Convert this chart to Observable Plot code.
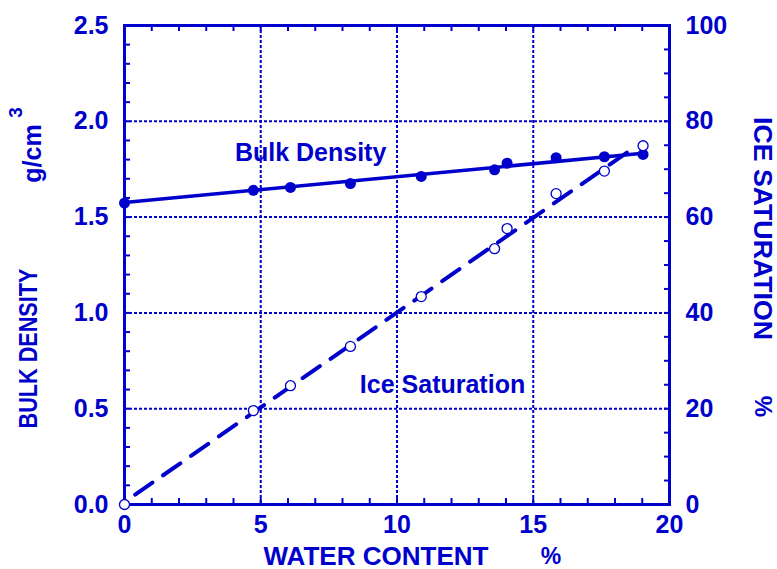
<!DOCTYPE html>
<html>
<head>
<meta charset="utf-8">
<script src="https://cdn.jsdelivr.net/npm/d3@7"></script>
<script src="https://cdn.jsdelivr.net/npm/@observablehq/plot@0.6"></script>
<style>
  body { margin: 0; background: #fff; }
</style>
</head>
<body>
<div id="chart"></div>
<script>
// Measured samples: water content (%), bulk density (g/cm3), ice saturation (%)
const waterContent = [0, 4.73, 6.09, 8.29, 10.89, 13.58, 14.04, 15.84, 17.61, 19.03];
const bulkDensity = [1.573, 1.64, 1.655, 1.675, 1.712, 1.747, 1.781, 1.81, 1.815, 1.827];
const iceSaturation = [0, 19.6, 24.8, 33.0, 43.4, 53.4, 57.6, 64.9, 69.6, 74.9];

// Fitted trend lines (end points)
const densityFitX = [0, 19.03];
const densityFitY = [1.576, 1.833];
const saturationFitX = [0, 18.8];
const saturationFitY = [0.5, 74.9];

// Tick values
const xLabelTicks = [0, 5, 10, 15, 20];
const densityTicks = [0, 0.5, 1.0, 1.5, 2.0, 2.5];
const saturationTicks = [0, 20, 40, 60, 80, 100];

// Series annotations
const seriesLabels = ["Bulk Density", "Ice Saturation"];
const seriesLabelX = [6.83, 11.67];
const seriesLabelY = [1.832, 0.626];

const BLUE = "#0000cc";
const SAT_PER_DENSITY = 40; // 100 % on the right axis lines up with 2.5 g/cm3 on the left

const points = waterContent.map((w, i) => ({w, rho: bulkDensity[i], sat: iceSaturation[i]}));
const densityFit = densityFitX.map((w, i) => ({w, rho: densityFitY[i]}));
const saturationFit = saturationFitX.map((w, i) => ({w, sat: saturationFitY[i]}));
const labels = seriesLabels.map((text, i) => ({text, x: seriesLabelX[i], y: seriesLabelY[i]}));

const blank = () => "";
const font = "'Liberation Sans', Arial, sans-serif";
const title = {fill: BLUE, textAnchor: "middle", lineAnchor: "middle"};

const chart = Plot.plot({
  width: 777,
  height: 569,
  marginLeft: 124,
  marginRight: 108,
  marginTop: 25,
  marginBottom: 65,
  x: {domain: [0, 20]},
  y: {domain: [0, 2.5]},
  style: {color: BLUE, fontFamily: font, fontWeight: "bold", background: "#fff", overflow: "visible"},
  marks: [
    // dotted grid
    Plot.gridX([5, 10, 15], {stroke: BLUE, strokeOpacity: 1, strokeWidth: 2, strokeDasharray: "3,2"}),
    Plot.gridY([0.5, 1.0, 1.5, 2.0], {stroke: BLUE, strokeOpacity: 1, strokeWidth: 2, strokeDasharray: "3,2"}),

    // inward minor ticks on all four edges
    Plot.axisX({anchor: "bottom", ticks: d3.range(0, 21, 1), tickSize: -6, tickFormat: blank, strokeWidth: 2, label: null}),
    Plot.axisX({anchor: "top", ticks: d3.range(0, 21, 1), tickSize: -5, tickFormat: blank, strokeWidth: 2, label: null}),
    Plot.axisY({anchor: "left", ticks: d3.range(0, 26, 1).map(d => d / 10), tickSize: -6, tickFormat: blank, strokeWidth: 2, label: null}),
    Plot.axisY({anchor: "right", ticks: d3.range(0, 101, 5).map(d => d / SAT_PER_DENSITY), tickSize: -6, tickFormat: blank, strokeWidth: 2, label: null}),

    // tick labels
    Plot.axisX({anchor: "bottom", ticks: xLabelTicks, tickSize: 0, tickPadding: 11, fontSize: 25, label: null}),
    Plot.axisY({anchor: "left", ticks: densityTicks, tickSize: 0, tickPadding: 16, fontSize: 25, tickFormat: d3.format(".1f"), label: null}),
    Plot.axisY({anchor: "right", ticks: saturationTicks.map(d => d / SAT_PER_DENSITY), tickSize: 0, tickPadding: 16, fontSize: 25,
      tickFormat: d => Math.round(d * SAT_PER_DENSITY), label: null}),

    Plot.frame({stroke: BLUE, strokeWidth: 3}),

    // bulk density: fitted line and filled markers
    Plot.line(densityFit, {x: "w", y: "rho", stroke: BLUE, strokeWidth: 3.5}),
    Plot.dot(points, {x: "w", y: "rho", r: 5.5, fill: BLUE, stroke: "none"}),

    // ice saturation: dashed fitted line and open markers
    Plot.line(saturationFit, {x: "w", y: d => d.sat / SAT_PER_DENSITY, stroke: BLUE, strokeWidth: 4,
      strokeDasharray: "21,13", strokeDashoffset: 21}),
    Plot.dot(points, {x: "w", y: d => d.sat / SAT_PER_DENSITY, r: 5, fill: "#fff", stroke: BLUE, strokeWidth: 1.3}),

    // series annotations
    Plot.text(labels, {x: "x", y: "y", text: "text", fontSize: 25, fill: BLUE}),

    // axis titles
    Plot.text(["WATER CONTENT"], {...title, frameAnchor: "bottom", dx: -21, dy: 52, fontSize: 25}),
    Plot.text(["%"], {...title, frameAnchor: "bottom", dx: 154, dy: 52, fontSize: 23}),
    Plot.text(["BULK DENSITY"], {...title, frameAnchor: "left", rotate: -90, dx: -96, dy: 83.5, fontSize: 25}),
    Plot.text(["g/cm"], {...title, frameAnchor: "left", rotate: -90, dx: -92, dy: -111.5, fontSize: 25}),
    Plot.text(["3"], {...title, frameAnchor: "left", rotate: -90, dx: -109, dy: -152.5, fontSize: 19}),
    Plot.text(["ICE SATURATION"], {...title, frameAnchor: "right", rotate: 90, dx: 93, dy: -36.5, fontSize: 26}),
    Plot.text(["%"], {...title, frameAnchor: "right", rotate: 90, dx: 93, dy: 141.5, fontSize: 24})
  ]
});

// the axis titles use a condensed setting: tall glyphs fitted to a fixed run length
const titleLengths = {"WATER CONTENT": 225, "BULK DENSITY": 160, "ICE SATURATION": 223};
d3.select(chart).selectAll("text").each(function() {
  const len = titleLengths[this.textContent];
  if (len) d3.select(this).attr("textLength", len).attr("lengthAdjust", "spacingAndGlyphs");
});

document.getElementById("chart").append(chart);
</script>
</body>
</html>
